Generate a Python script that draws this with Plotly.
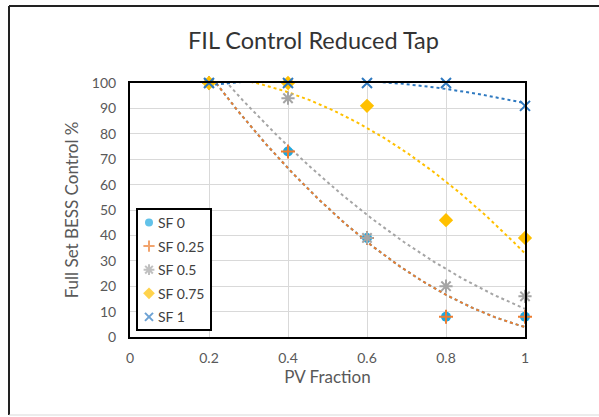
import numpy as np
import plotly.graph_objects as go

pv_fraction = [0.2, 0.4, 0.6, 0.8, 1.0]
sf_0 = [100, 73, 39, 8, 8]
sf_025 = [100, 73, 39, 8, 8]
sf_05 = [100, 94, 39, 20, 16]
sf_075 = [100, 100, 91, 46, 39]
sf_1 = [100, 100, 100, 100, 91]

series_names = ["SF 0", "SF 0.25", "SF 0.5", "SF 0.75", "SF 1"]
series_values = [sf_0, sf_025, sf_05, sf_075, sf_1]
colors = ["#1FA8DF", "#ED7D31", "#A5A5A5", "#FFC000", "#2E79C0"]
symbols = ["circle", "cross-thin-open", "asterisk-open", "diamond", "x-thin-open"]
sizes = [10, 10, 11, 11, 10]

x_ticks = [0, 0.2, 0.4, 0.6, 0.8, 1]
x_tick_labels = ["0", "0.2", "0.4", "0.6", "0.8", "1"]
y_ticks = list(range(0, 101, 10))

FONT = "Lato"
W, H = 599, 417
L, R, T, B = 130, 74, 83, 80
pw, ph = W - L - R, H - T - B
Y_MAX = 100


def px_to_x(px):
    return (px - L) / pw


def py_to_y(py):
    return (H - B - py) / ph * Y_MAX


fig = go.Figure()

# polynomial (order 2) trendlines, as in the Excel chart
xs = np.linspace(min(pv_fraction), max(pv_fraction), 200)
for name, vals, col in zip(series_names, series_values, colors):
    coef = np.polyfit(pv_fraction, vals, 2)
    fig.add_trace(go.Scatter(x=xs, y=np.polyval(coef, xs), mode="lines",
                             line=dict(color=col, width=2, dash="dot"),
                             showlegend=False, hoverinfo="skip"))

for name, vals, col, sym, sz in zip(series_names, series_values, colors, symbols, sizes):
    open_sym = sym.endswith("open")
    fig.add_trace(go.Scatter(
        x=pv_fraction, y=vals, mode="markers", name=name, showlegend=False,
        marker=dict(symbol=sym, size=sz, color=col,
                    line=dict(color=col, width=2 if open_sym else 0)),
        cliponaxis=False))

# ---- custom legend box placed inside the plot area ----
leg_left, leg_right, leg_top, leg_bottom = 137, 211, 209, 330
leg_sym_x, leg_text_x = 149, 156
leg_row0, leg_step = 222.5, 23.6
rows = [leg_row0 + i * leg_step for i in range(len(series_names))]
fig.add_trace(go.Scatter(
    x=[px_to_x(leg_sym_x)] * len(series_names), y=[py_to_y(r) for r in rows],
    mode="markers", showlegend=False, hoverinfo="skip", cliponaxis=False,
    marker=dict(symbol=symbols, size=[8, 8, 9, 9, 8], color=colors,
                line=dict(color=colors, width=[0, 2, 2, 0, 2]))))
fig.add_shape(type="rect", xref="x", yref="y",
              x0=px_to_x(leg_left), x1=px_to_x(leg_right),
              y0=py_to_y(leg_top), y1=py_to_y(leg_bottom), fillcolor="white",
              line=dict(color="black", width=2), layer="between")
for name, yy in zip(series_names, rows):
    fig.add_annotation(x=px_to_x(leg_text_x), y=py_to_y(yy), xref="x", yref="y", text=name,
                       showarrow=False, xanchor="left", yanchor="middle",
                       font=dict(family=FONT, size=14, color="#404040"))

fig.update_layout(
    width=W, height=H,
    margin=dict(l=L, r=R, t=T, b=B),
    paper_bgcolor="white", plot_bgcolor="white",
    font=dict(family=FONT, size=14, color="#595959"),
    showlegend=False,
    title=dict(text="FIL Control Reduced Tap", x=(L + pw / 2 - 14) / W, xanchor="center",
               y=1 - 41 / H, yanchor="middle",
               font=dict(family=FONT, size=23.5, color="#333333")),
    xaxis=dict(range=[0, 1], tickvals=x_ticks, ticktext=x_tick_labels,
               showgrid=True, gridcolor="#D9D9D9", gridwidth=1,
               showline=True, linecolor="black", linewidth=2, mirror=True,
               zeroline=False, ticks="outside", ticklen=7, tickcolor="rgba(0,0,0,0)",
               title=dict(text="PV Fraction", font=dict(size=17, color="#595959"), standoff=6)),
    yaxis=dict(range=[0, Y_MAX], tickvals=y_ticks,
               showgrid=True, gridcolor="#D9D9D9", gridwidth=1,
               showline=True, linecolor="black", linewidth=2, mirror=True,
               zeroline=False, ticks="outside", ticklen=9, tickcolor="rgba(0,0,0,0)",
               title=dict(text="Full Set BESS Control %", font=dict(size=17, color="#595959"), standoff=9)),
)

# outer chart frame (top/left dark, bottom faint)
fig.add_shape(type="line", xref="paper", yref="paper",
              x0=(9 - L) / pw, x1=(W + 1 - L) / pw, y0=1 + (T - 6) / ph, y1=1 + (T - 6) / ph,
              line=dict(color="#222222", width=2))
fig.add_shape(type="line", xref="paper", yref="paper",
              x0=(9 - L) / pw, x1=(9 - L) / pw, y0=1 + (T - 6) / ph, y1=-(H - 2 - (H - B)) / ph,
              line=dict(color="#222222", width=2))
fig.add_shape(type="line", xref="paper", yref="paper",
              x0=(9 - L) / pw, x1=(W + 1 - L) / pw, y0=-(415 - (H - B)) / ph, y1=-(415 - (H - B)) / ph,
              line=dict(color="#D9D9D9", width=1))

fig.write_html("out.html")
